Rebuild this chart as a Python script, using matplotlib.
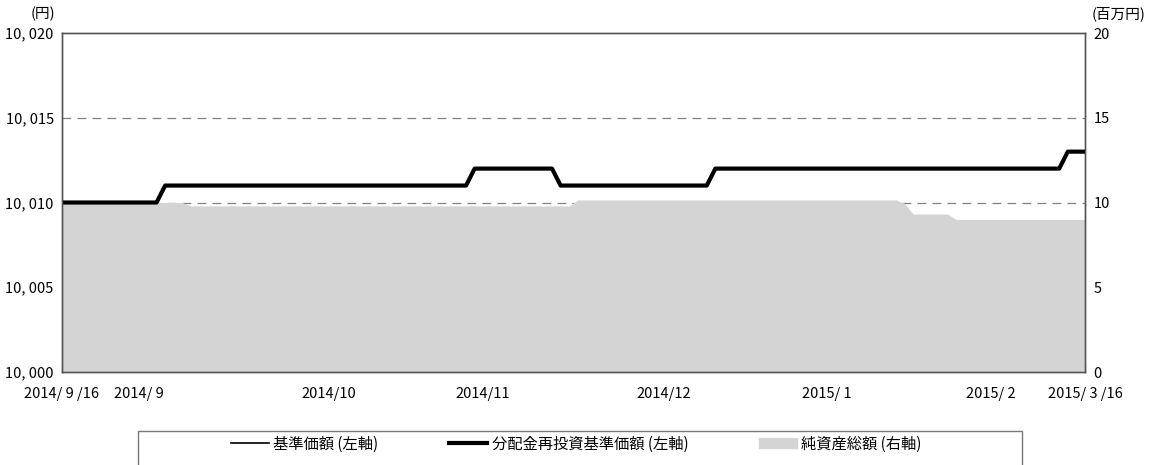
import numpy as np
import pandas as pd
import matplotlib
matplotlib.use('Agg')
import matplotlib.pyplot as plt
from matplotlib.lines import Line2D
from matplotlib.patches import Patch, Rectangle

plt.rcParams['font.family'] = ['Noto Sans CJK JP', 'DejaVu Sans']

# business days of the fund (Tokyo holidays removed)
holidays = ['2014-09-23', '2014-10-13', '2014-11-03', '2014-11-24', '2014-12-23',
            '2014-12-31', '2015-01-01', '2015-01-02', '2015-01-12', '2015-02-11']
dates = pd.bdate_range('2014-09-16', '2015-03-16', freq='C', holidays=holidays)

# 基準価額 (円)
nav = [10010, 10010, 10010, 10010, 10010, 10010, 10010, 10010, 10010, 10010,
       10010, 10010, 10011, 10011, 10011, 10011, 10011, 10011, 10011, 10011,
       10011, 10011, 10011, 10011, 10011, 10011, 10011, 10011, 10011, 10011,
       10011, 10011, 10011, 10011, 10011, 10011, 10011, 10011, 10011, 10011,
       10011, 10011, 10011, 10011, 10011, 10011, 10011, 10011, 10012, 10012,
       10012, 10012, 10012, 10012, 10012, 10012, 10012, 10012, 10011, 10011,
       10011, 10011, 10011, 10011, 10011, 10011, 10011, 10011, 10011, 10011,
       10011, 10011, 10011, 10011, 10011, 10011, 10012, 10012, 10012, 10012,
       10012, 10012, 10012, 10012, 10012, 10012, 10012, 10012, 10012, 10012,
       10012, 10012, 10012, 10012, 10012, 10012, 10012, 10012, 10012, 10012,
       10012, 10012, 10012, 10012, 10012, 10012, 10012, 10012, 10012, 10012,
       10012, 10012, 10012, 10012, 10012, 10012, 10012, 10013, 10013, 10013]
# 分配金再投資基準価額 (円) - no distributions, same as nav
nav_reinv = list(nav)
# 純資産総額 (百万円)
assets = [10.0, 10.0, 10.0, 10.0, 10.0, 10.0, 10.0, 10.0, 10.0, 10.0,
          10.0, 10.0, 10.0, 10.0, 10.0, 9.8, 9.8, 9.8, 9.8, 9.8,
          9.8, 9.8, 9.8, 9.8, 9.8, 9.8, 9.8, 9.8, 9.8, 9.8,
          9.8, 9.8, 9.8, 9.8, 9.8, 9.8, 9.8, 9.8, 9.8, 9.8,
          9.8, 9.8, 9.8, 9.8, 9.8, 9.8, 9.8, 9.8, 9.8, 9.8,
          9.8, 9.8, 9.8, 9.8, 9.8, 9.8, 9.8, 9.8, 9.8, 9.8,
          10.15, 10.15, 10.15, 10.15, 10.15, 10.15, 10.15, 10.15, 10.15, 10.15,
          10.15, 10.15, 10.15, 10.15, 10.15, 10.15, 10.15, 10.15, 10.15, 10.15,
          10.15, 10.15, 10.15, 10.15, 10.15, 10.15, 10.15, 10.15, 10.15, 10.15,
          10.15, 10.15, 10.15, 10.15, 10.15, 10.15, 10.15, 10.15, 9.95, 9.32,
          9.32, 9.32, 9.32, 9.32, 9.0, 9.0, 9.0, 9.0, 9.0, 9.0,
          9.0, 9.0, 9.0, 9.0, 9.0, 9.0, 9.0, 9.0, 9.0, 9.0]

left_ticks = [10000, 10005, 10010, 10015, 10020]
left_labels = ['10, 000', '10, 005', '10, 010', '10, 015', '10, 020']
right_ticks = [0, 5, 10, 15, 20]
x_labels = ['2014/ 9 /16', '2014/ 9', '2014/10', '2014/11', '2014/12',
            '2015/ 1', '2015/ 2', '2015/ 3 /16']

x = np.arange(len(dates))
s = pd.Series(x, index=dates)
month_end = list(s.groupby([dates.year, dates.month]).max().values)[:-1]
x_ticks = [0] + month_end + [len(dates) - 1]

fs = 10.5
edge = '#555555'
fig = plt.figure(figsize=(11.64, 4.65), dpi=100)
ax2 = fig.add_axes([62/1164, 1 - 372/465, 1023/1164, 339/465])
ax = ax2.twinx()
ax.yaxis.tick_left()
ax2.yaxis.tick_right()

ax2.fill_between(x, assets, 0, color='#d4d4d4', lw=0, zorder=2)
ax2.set_ylim(0, 20)
ax2.set_yticks(right_ticks)
ax2.set_yticklabels([str(t) for t in right_ticks], fontsize=fs)
for t in [5, 10, 15]:
    ax2.axhline(t, color='#808080', lw=0.9, ls=(0, (7, 5)), zorder=1)

ax.set_zorder(ax2.get_zorder() + 1)
ax.patch.set_visible(False)
ax.plot(x, nav, color='black', lw=1.2)
ax.plot(x, nav_reinv, color='black', lw=3.0)
ax.set_ylim(10000, 10020)
ax.set_yticks(left_ticks)
ax.set_yticklabels(left_labels, fontsize=fs)
ax.set_xlim(0, len(dates) - 1)

ax2.set_xticks(x_ticks)
ax2.set_xticklabels(x_labels, fontsize=fs)
for a in (ax, ax2):
    a.tick_params(axis='y', length=0, pad=6)
    for sp in a.spines.values():
        sp.set_color(edge)
        sp.set_linewidth(1.0)
ax2.tick_params(axis='x', direction='in', length=5, color=edge, pad=11)
ax.tick_params(axis='x', length=0)

fig.text(55/1164, 1 - 14/465, '(円)', ha='right', va='center', fontsize=fs)
fig.text(1092/1164, 1 - 14/465, '(百万円)', ha='left', va='center', fontsize=fs)

# legend
fig.add_artist(Rectangle((138/1164, -0.05), 884/1164, 0.05 + 1 - 431/465,
                         transform=fig.transFigure, fill=False, ec='#777777', lw=1.0))
handles = [Line2D([], [], color='black', lw=1.2),
           Line2D([], [], color='black', lw=3.0),
           Patch(color='#d4d4d4')]
labels = ['基準価額 (左軸)', '分配金再投資基準価額 (左軸)', '純資産総額 (右軸)']
fig.legend(handles, labels, loc='center left', bbox_to_anchor=(223/1164, 1 - 444/465),
           ncol=3, frameon=False, fontsize=11, borderpad=0, handlelength=2.5,
           handleheight=0.6, handletextpad=0.3, columnspacing=4.6)

fig.savefig('out.png', dpi=100)
